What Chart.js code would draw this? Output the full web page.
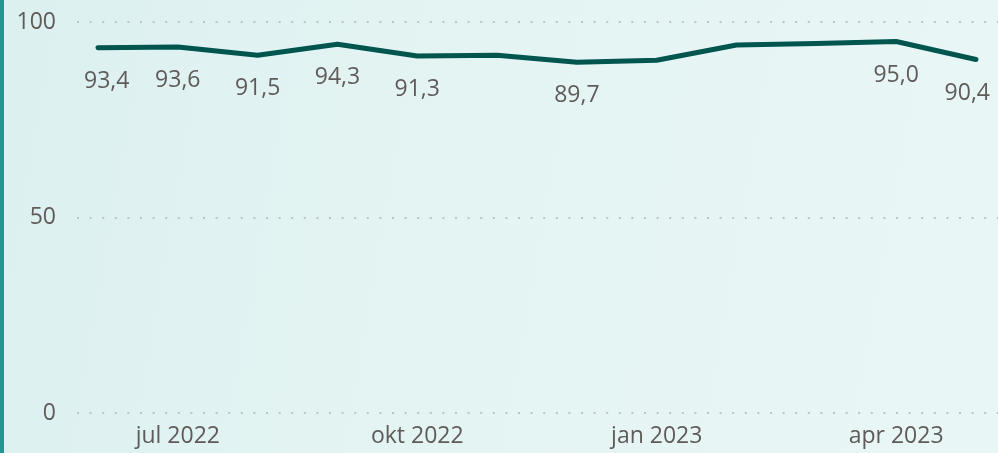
<!DOCTYPE html>
<html>
<head>
<meta charset="utf-8">
<script src="https://cdn.jsdelivr.net/npm/chart.js@4"></script>
<style>
  html, body { margin: 0; padding: 0; }
  body { width: 998px; height: 453px; overflow: hidden;
         background: linear-gradient(100deg, #dcf0f0 0%, #e4f4f3 45%, #e9f6f6 100%); position: relative; }
  #bar { position: absolute; left: 0; top: 0; width: 4px; height: 453px; background: #1f9892; }
  #wrap { position: absolute; left: 0; top: 0; width: 998px; height: 453px; }
</style>
</head>
<body>
<div id="bar"></div>
<div id="wrap"><canvas id="c" width="998" height="453"></canvas></div>
<script>
const months = ["jun 2022","jul 2022","aug 2022","sep 2022","okt 2022","nov 2022","dec 2022","jan 2023","feb 2023","mar 2023","apr 2023","maj 2023"];
const values = [93.4, 93.6, 91.5, 94.3, 91.3, 91.5, 89.7, 90.2, 94.1, 94.5, 95.0, 90.4];
const showLabel = [true, true, true, true, true, false, true, false, false, false, true, true];
const xTickIndex = [1, 4, 7, 10];
const yTicks = [0, 50, 100];

const FONT = '"Segoe UI", "Open Sans", sans-serif';
const TEXT = '#5f5b58';

const labelPlugin = {
  id: 'pointLabels',
  afterDatasetsDraw(chart) {
    const ctx = chart.ctx;
    const meta = chart.getDatasetMeta(0);
    ctx.save();
    ctx.font = '23px ' + FONT;
    ctx.fillStyle = TEXT;
    ctx.textAlign = 'center';
    ctx.textBaseline = 'alphabetic';
    meta.data.forEach((pt, i) => {
      if (!showLabel[i]) return;
      const txt = values[i].toFixed(1).replace('.', ',');
      const w = ctx.measureText(txt).width;
      let x = pt.x;
      if (x - w / 2 < 84) x = 84 + w / 2;
      if (x + w / 2 > 990) x = 990 - w / 2;
      ctx.fillText(txt, x, pt.y + 40);
    });
    ctx.restore();
  }
};

new Chart(document.getElementById('c'), {
  type: 'line',
  data: {
    datasets: [{
      data: values.map((v, i) => ({ x: i, y: v })),
      borderColor: '#00554f',
      borderWidth: 5,
      pointRadius: 0,
      pointHoverRadius: 0,
      tension: 0,
      borderCapStyle: 'round',
      borderJoinStyle: 'round',
      fill: false
    }]
  },
  options: {
    responsive: false,
    animation: false,
    events: [],
    layout: { autoPadding: false, padding: { top: 22, right: 0, left: 0, bottom: 0 } },
    plugins: { legend: { display: false }, tooltip: { enabled: false } },
    scales: {
      x: {
        type: 'linear',
        min: -0.263,
        max: 11.276,
        afterBuildTicks: s => { s.ticks = xTickIndex.map(v => ({ value: v })); },
        afterFit: s => { s.height = 40; s.paddingLeft = 0; s.paddingRight = 0; },
        ticks: {
          callback: v => months[v] || '',
          font: { family: FONT, size: 23 },
          color: TEXT,
          padding: 10,
          maxRotation: 0,
          autoSkip: false
        },
        grid: { display: false, drawTicks: false },
        border: { display: false }
      },
      y: {
        min: 0,
        max: 100,
        afterBuildTicks: s => { s.ticks = yTicks.map(v => ({ value: v })); },
        afterFit: s => { s.width = 77; s.paddingTop = 0; s.paddingBottom = 0; },
        ticks: {
          font: { family: FONT, size: 23 },
          color: TEXT,
          padding: 21
        },
        grid: {
          drawTicks: false,
          color: '#bcc5c5',
          lineWidth: 2
        },
        border: { display: false, dash: [2, 10.6] }
      }
    }
  },
  plugins: [labelPlugin]
});
</script>
</body>
</html>
